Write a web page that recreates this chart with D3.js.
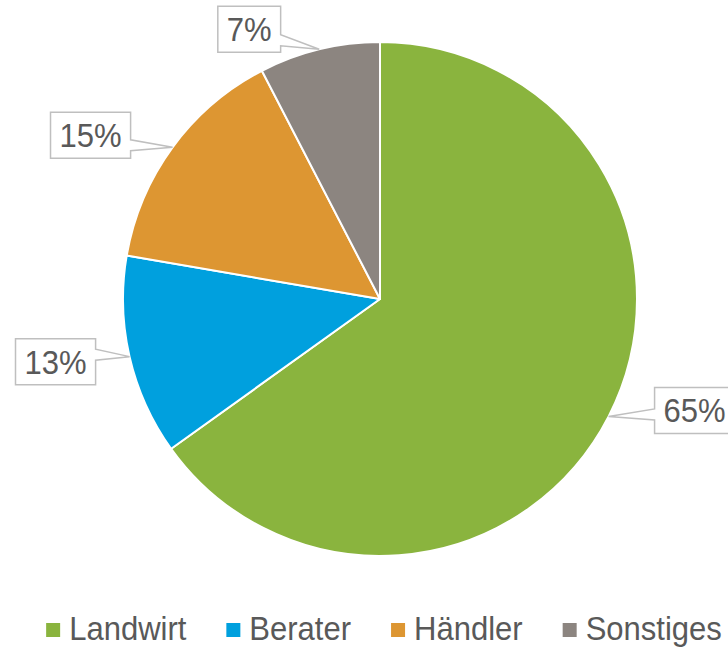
<!DOCTYPE html>
<html>
<head>
<meta charset="utf-8">
<script src="https://cdn.jsdelivr.net/npm/d3@7"></script>
<style>
  body { margin: 0; background: #fff; }
  text { font-family: "Liberation Sans", Arial, sans-serif; fill: #595959; }
</style>
</head>
<body>
<svg id="chart" width="728" height="649"></svg>
<script>
// data
var categories = ["Landwirt", "Berater", "Händler", "Sonstiges"];
var shares = [65.1, 12.6, 14.7, 7.6];
var shareLabels = ["65%", "13%", "15%", "7%"];
var colors = ["#8AB43E", "#00A0DE", "#DD9632", "#8C8580"];

var width = 728, height = 649,
    cx = 380, cy = 299, radius = 257;

// text is a bit taller than wide in the original
var fontSize = 33, squeeze = 0.94;

// manual nudges of the callouts from the slice edge (like dragged labels)
var labelShift = [[86, -6], [-74, 5], [-82, -12], [-70, -20]];

var data = categories.map(function(c, i) {
  return {name: c, value: shares[i], label: shareLabels[i], color: colors[i], shift: labelShift[i]};
});

var svg = d3.select("#chart");
var g = svg.append("g").attr("transform", "translate(" + cx + "," + cy + ")");

var pie = d3.pie().sort(null).value(function(d) { return d.value; });
var arc = d3.arc().innerRadius(0).outerRadius(radius);
var arcs = pie(data);

g.selectAll("path.slice")
  .data(arcs)
  .enter().append("path")
    .attr("class", "slice")
    .attr("d", arc)
    .attr("fill", function(d) { return d.data.color; })
    .attr("stroke", "#fff")
    .attr("stroke-width", 2)
    .attr("stroke-linejoin", "round");

// callout labels
var boxH = 46, pad = 9, halfBase = 5.5;

arcs.forEach(function(d) {
  var mid = (d.startAngle + d.endAngle) / 2;
  var ax = radius * Math.sin(mid), ay = -radius * Math.cos(mid);
  var bx = ax + d.data.shift[0], by = ay + d.data.shift[1];

  var lab = g.append("g");
  var path = lab.append("path");
  var t = lab.append("text")
      .attr("transform", "translate(" + bx + "," + by + ") scale(" + squeeze + ",1)")
      .attr("dy", "0.36em")
      .attr("text-anchor", "middle")
      .attr("font-size", fontSize)
      .text(d.data.label);

  var tw = t.node().getComputedTextLength() * squeeze;
  var w = tw + 2 * pad;
  var x0 = bx - w / 2, x1 = bx + w / 2, y0 = by - boxH / 2, y1 = by + boxH / 2;
  var bc = Math.max(y0 + 10, Math.min(y1 - 12, ay - 2));
  var p;
  if (ax > x1) {
    p = "M" + x0 + "," + y0 + "H" + x1 + "V" + (bc - halfBase) + "L" + ax + "," + ay +
        "L" + x1 + "," + (bc + halfBase) + "V" + y1 + "H" + x0 + "Z";
  } else {
    p = "M" + x0 + "," + y0 + "H" + x1 + "V" + y1 + "H" + x0 + "V" + (bc + halfBase) +
        "L" + ax + "," + ay + "L" + x0 + "," + (bc - halfBase) + "Z";
  }
  path.attr("d", p)
      .attr("fill", "#fff")
      .attr("stroke", "#BFBFBF")
      .attr("stroke-width", 1.5);
});

// legend
var legend = svg.append("g");
var items = legend.selectAll("g.item")
  .data(data)
  .enter().append("g")
    .attr("class", "item");

items.append("rect")
    .attr("width", 14)
    .attr("height", 14)
    .attr("y", 623)
    .attr("fill", function(d) { return d.color; });

items.append("text")
    .attr("transform", "translate(23,640) scale(" + squeeze + ",1)")
    .attr("font-size", fontSize)
    .text(function(d) { return d.name; });

var gap = 40, xPos = 0;
items.each(function() {
  var item = d3.select(this);
  var tw = item.select("text").node().getComputedTextLength() * squeeze;
  item.attr("transform", "translate(" + xPos + ",0)");
  xPos += 23 + tw + gap;
});
var total = xPos - gap;
legend.attr("transform", "translate(" + (384 - total / 2) + ",0)");
</script>
</body>
</html>
